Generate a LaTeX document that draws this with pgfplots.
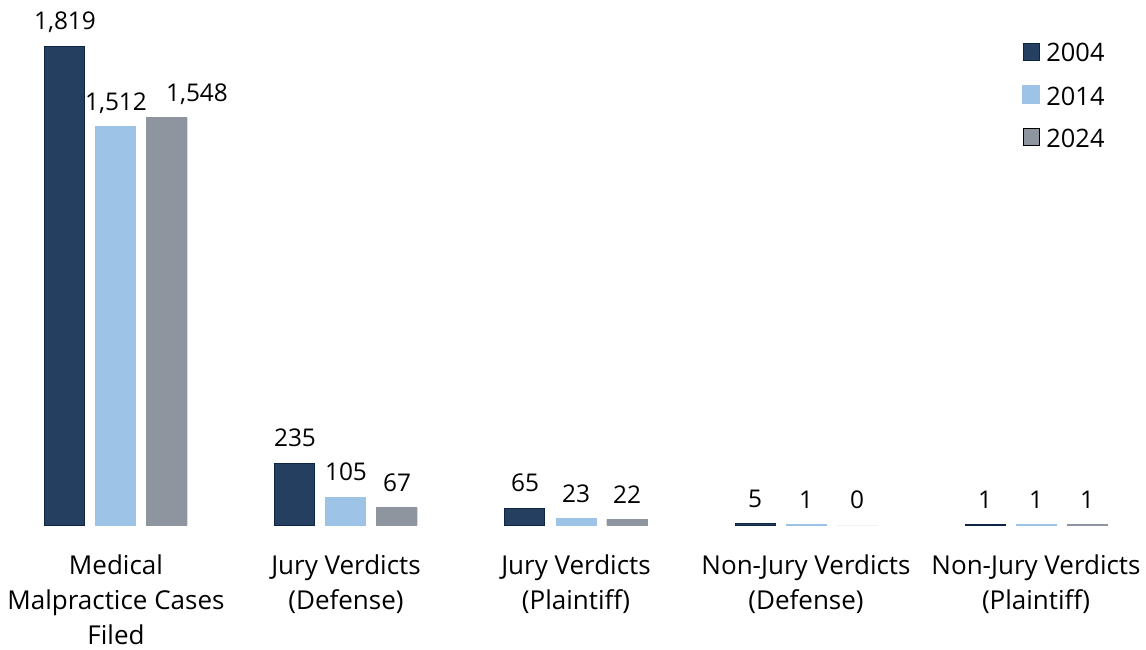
\documentclass[border=0pt]{standalone}
\usepackage{fontspec}
\setmainfont{Open Sans}
\usepackage{pgfplots}
\usepackage{pgfplotstable}
\pgfplotsset{compat=1.18}
\definecolor{c04}{HTML}{243F5F}
\definecolor{c04d}{HTML}{0E2444}
\definecolor{c14}{HTML}{9DC3E6}
\definecolor{c24}{HTML}{8E959E}
\pgfplotstableread{
x y04 y14 y24
0 1819 1512 1548
1 235 105 67
2 65 23 22
3 5 1 0
4 1 1 1
}\data
\newcommand{\chartfont}{\fontsize{12.2}{17.5}\selectfont}
\newcommand{\catfont}{\fontsize{13}{17.5}\selectfont}
\begin{document}
\begin{tikzpicture}
\begin{axis}[
  scale only axis, width=573pt, height=324.5pt,
  xmin=-0.5043, xmax=4.4783, ymin=-470.9, ymax=1993.7,
  axis line style={draw=none}, major tick length=0pt, ytick=\empty,
  xtick={0,1,2,3,4},
  xticklabels={{Medical\\Malpractice Cases\\Filed},{Jury Verdicts\\(Defense)},{Jury Verdicts\\(Plaintiff)},{Non-Jury Verdicts\\(Defense)},{Non-Jury Verdicts\\(Plaintiff)}},
  xticklabel style={align=center, anchor=north, inner sep=0pt, yshift=47.5pt, font=\catfont, text=black},
  ybar, clip=false,
  /pgf/number format/assume math mode=true,
  /pgf/number format/1000 sep={,},
  every node near coord/.append style={font=\chartfont, anchor=south, inner sep=0pt, yshift=8pt, text depth=0pt, text=black},
  legend style={draw=none, fill=none, at={(0.8918,0.9353)}, anchor=north west, inner sep=0pt,
    nodes={inner sep=0pt, font=\fontsize{12.7}{15}\selectfont, text height=8.9pt, text depth=0pt}, row sep=11.7pt, column sep=3.2pt},
  legend cell align=left,
  legend image code/.code={\draw[#1] (0pt,-3.5pt) rectangle (8pt,5pt);},
]
\addplot[fill=c04, draw=c04d, line width=0.5pt, bar width=20pt, bar shift=-25.5pt, nodes near coords] table[x=x,y=y04]{\data};
\addlegendentry{2004}
\addplot[fill=c14, draw=c14, line width=0.8pt, bar width=19.7pt, bar shift=0pt, nodes near coords] table[x=x,y=y14]{\data};
\addlegendentry{2014}
\addplot[fill=c24, draw=none, bar width=20.5pt, bar shift=25.5pt, nodes near coords,
  visualization depends on={y \as \yval},
  every node near coord/.append style={xshift={(\yval>1000)*15pt}}] table[x=x,y=y24]{\data};
\addlegendentry{2024}
\addplot[fill=c24, draw=c24, line width=0.8pt, bar width=19.7pt, bar shift=25.5pt, forget plot, unbounded coords=discard, y filter/.expression={y==0 ? nan : y}] table[x=x,y=y24]{\data};
\end{axis}
\end{tikzpicture}
\end{document}
